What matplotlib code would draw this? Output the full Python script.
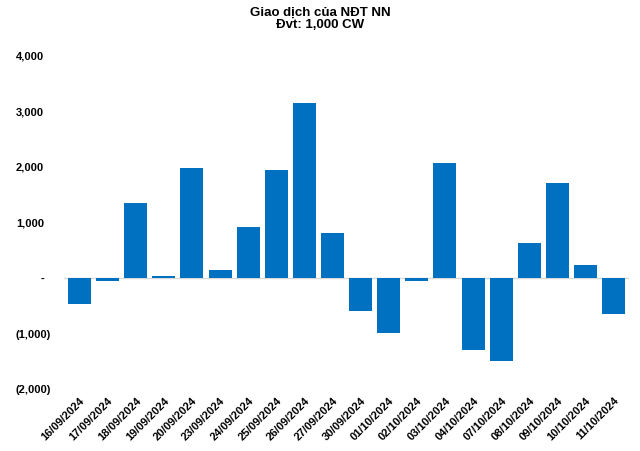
import matplotlib
matplotlib.use('Agg')
import matplotlib.pyplot as plt
import matplotlib.transforms as mtransforms

dates = ['16/09/2024', '17/09/2024', '18/09/2024', '19/09/2024', '20/09/2024',
         '23/09/2024', '24/09/2024', '25/09/2024', '26/09/2024', '27/09/2024',
         '30/09/2024', '01/10/2024', '02/10/2024', '03/10/2024', '04/10/2024',
         '07/10/2024', '08/10/2024', '09/10/2024', '10/10/2024', '11/10/2024']
values = [-470, -60, 1350, 45, 1980,
          150, 920, 1945, 3150, 810,
          -600, -995, -60, 2070, -1300,
          -1500, 630, 1710, 240, -650]
yticks = [-2000, -1000, 0, 1000, 2000, 3000, 4000]
ytick_labels = ['(2,000)', '(1,000)', '-', '1,000', '2,000', '3,000', '4,000']

plt.rcParams['font.family'] = ['Liberation Sans', 'DejaVu Sans']

fig = plt.figure(figsize=(6.4, 4.52), dpi=100)
ax = fig.add_axes([0.1, 0.137, 0.883, 0.737])

x = range(len(dates))
ax.bar(x, values, width=0.82, color='#0070C0', zorder=2)
ax.axhline(0, color='#D9D9D9', linewidth=1, zorder=1)

ax.set_xlim(-0.55, len(dates) - 0.45)
ax.set_ylim(-2000, 4000)
ax.set_yticks(yticks)
ax.set_yticklabels([])
ax.tick_params(axis='y', length=0)
for s in ax.spines.values():
    s.set_visible(False)

# y labels, left aligned like the accounting format
trans = mtransforms.blended_transform_factory(fig.transFigure, ax.transData)
for v, lab in zip(yticks, ytick_labels):
    xpos = 41 / 640 if lab == '-' else 16 / 640
    ax.text(xpos, v, lab, transform=trans, ha='left', va='center',
            fontsize=8, fontweight='bold')

ax.set_xticks(list(x))
ax.set_xticklabels(dates, rotation=45, ha='right', rotation_mode='anchor',
                   fontsize=8, fontweight='bold')
ax.tick_params(axis='x', length=0, pad=4)

fig.text(0.5, 0.985, 'Giao dịch của NĐT NN\nĐvt: 1,000 CW', ha='center', va='top',
         fontsize=9.5, fontweight='bold', linespacing=1.05)

fig.savefig('out.png', dpi=100)
